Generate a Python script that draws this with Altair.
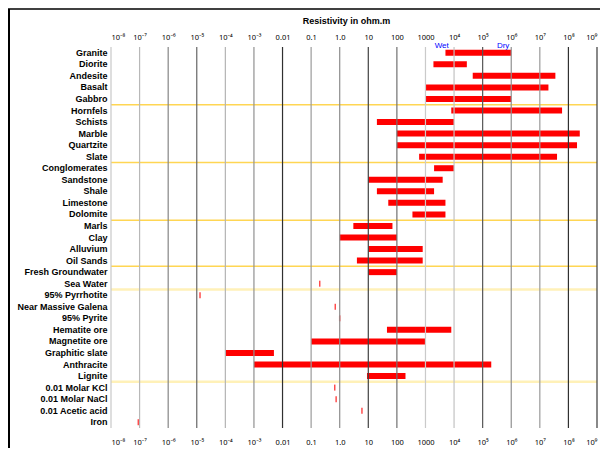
import altair as alt
import pandas as pd

# ---------------- data ----------------
rows = [
    "Granite", "Diorite", "Andesite", "Basalt", "Gabbro",
    "Hornfels", "Schists", "Marble", "Quartzite", "Slate",
    "Conglomerates", "Sandstone", "Shale", "Limestone", "Dolomite",
    "Marls", "Clay", "Alluvium", "Oil Sands",
    "Fresh Groundwater", "Sea Water",
    "95% Pyrrhotite", "Near Massive Galena", "95% Pyrite", "Hematite ore",
    "Magnetite ore", "Graphitic slate", "Anthracite", "Lignite",
    "0.01 Molar KCl", "0.01 Molar NaCl", "0.01 Acetic acid", "Iron",
]
low = [
    5e3, 1.9e3, 4.5e4, 1e3, 1e3,
    8e3, 20, 100, 100, 600,
    2e3, 10, 20, 50, 350,
    3, 1, 10, 4,
    10, 0.2,
    1.3e-5, 0.7, 1.0, 45,
    0.1, 1e-4, 1e-3, 9,
    0.67, 0.75, 6, 9e-8,
]
high = [
    1e6, 2.8e4, 3.5e7, 2e7, 1e6,
    6e7, 1e4, 2.5e8, 2e8, 4e7,
    1e4, 4e3, 2e3, 5e3, 5e3,
    70, 100, 800, 800,
    100, 0.2,
    1.3e-5, 0.7, 1.0, 8e3,
    1e3, 5e-3, 2e5, 200,
    0.67, 0.75, 6, 9e-8,
]
decades = [1e-8, 1e-7, 1e-6, 1e-5, 1e-4, 1e-3, 1e-2, 1e-1, 1, 10, 100, 1e3,
           1e4, 1e5, 1e6, 1e7, 1e8, 1e9]
tick_labels = ["10⁻⁸", "10⁻⁷", "10⁻⁶", "10⁻⁵", "10⁻⁴", "10⁻³", "0.01", "0.1",
               "1.0", "10", "100", "1000", "10⁴", "10⁵", "10⁶", "10⁷", "10⁸", "10⁹"]
group_ends = ["Gabbro", "Slate", "Dolomite", "Oil Sands", "Sea Water", "Lignite"]
group_kind = ["major", "major", "major", "major", "minor", "minor"]
notes = ["Wet", "Dry"]
note_x = [3.7e3, 5.2e5]
note_row = ["Granite", "Granite"]

# ---------------- styles ----------------
grid_shades = ["#c8c8c8", "#b8b8b8", "#858585", "#656565", "#b4b4b4", "#909090",
               "#303030", "#9a9a9a", "#8c8c8c", "#404040", "#707070", "#cacaca",
               "#c2c2c2", "#555555", "#909090", "#9a9a9a", "#303030", "#3a3a3a"]
W, H = 486, 381
PAD = {"left": 103, "top": 39, "right": 3, "bottom": 20}
TICK_FONT = "Noto Sans"

df = pd.DataFrame({"rock": rows, "lo": low, "hi": high})
grid_df = pd.DataFrame({"v": decades, "i": list(range(len(decades)))})
sep_df = pd.DataFrame({"rock": group_ends, "kind": group_kind})
note_df = pd.DataFrame({"label": notes, "x": note_x, "rock": note_row})

xscale = alt.Scale(type="log", domain=[1e-8, 1e9], nice=False)
yscale = alt.Scale(type="band", domain=rows, paddingInner=0, paddingOuter=0)
label_expr = "[" + ",".join("'%s'" % t for t in tick_labels) + "][round(log(datum.value)/LN10)+8]"

seps = alt.Chart(sep_df).mark_rule().encode(
    y=alt.Y("rock:N", scale=yscale, bandPosition=1, axis=None),
    color=alt.Color("kind:N", scale=alt.Scale(domain=["major", "minor"],
                                              range=["#FFD653", "#FFF1B8"]), legend=None),
    strokeWidth=alt.StrokeWidth("kind:N", scale=alt.Scale(domain=["major", "minor"],
                                                          range=[1.5, 2.5]), legend=None),
)

bars = alt.Chart(df).transform_filter("datum.hi > datum.lo").mark_bar(
    size=6, color="#ff0000"
).encode(
    x=alt.X("lo:Q", scale=xscale, axis=alt.Axis(
        orient="top", values=decades, labelExpr=label_expr, title="Resistivity in ohm.m",
        grid=False, ticks=False, tickSize=0, domain=False, labelFontSize=7.5,
        labelFont=TICK_FONT, labelPadding=6, labelFlush=True, labelOverlap=False,
        labelColor="#000",
        titleFontSize=9, titleFontWeight="bold", titleColor="#000",
        titleX=235, titleY=-24, titleBaseline="alphabetic", titleAlign="center")),
    x2="hi:Q",
    y=alt.Y("rock:N", scale=yscale, axis=alt.Axis(
        title=None, domain=False, ticks=False, grid=False, labelFontWeight="bold",
        labelFontSize=9, labelPadding=4, labelColor="#000")),
)

points = alt.Chart(df).transform_filter("datum.hi == datum.lo").mark_tick(
    thickness=1.5, size=6, color="#ff0000"
).encode(
    x=alt.X("lo:Q", scale=xscale, axis=None),
    y=alt.Y("rock:N", scale=yscale, axis=None),
)

grid = alt.Chart(grid_df).mark_rule(strokeWidth=1.2).encode(
    x=alt.X("v:Q", scale=xscale, axis=alt.Axis(
        orient="bottom", values=decades, labelExpr=label_expr, title=None,
        grid=False, ticks=False, tickSize=0, domain=False, labelFontSize=7.5,
        labelFont=TICK_FONT, labelPadding=10, labelFlush=True, labelOverlap=False,
        labelColor="#000")),
    color=alt.Color("i:O", scale=alt.Scale(domain=list(range(len(decades))),
                                           range=grid_shades), legend=None),
)

note = alt.Chart(note_df).mark_text(
    fontSize=8, color="#0000ff", baseline="alphabetic", dy=-5
).encode(
    x=alt.X("x:Q", scale=xscale, axis=None),
    y=alt.Y("rock:N", scale=yscale, axis=None),
    text="label:N",
)

frame_src = pd.DataFrame({"k": [0]})
frame_left = alt.Chart(frame_src).mark_rule(color="#000", strokeWidth=2).encode(
    x=alt.value(-102), y=alt.value(-38), y2=alt.value(H + PAD["bottom"]))
frame_top = alt.Chart(frame_src).mark_rule(color="#000", strokeWidth=1.6).encode(
    x=alt.value(-103), x2=alt.value(W + PAD["right"]), y=alt.value(-38))

chart = alt.layer(seps, bars, points, grid, note, frame_left, frame_top).resolve_scale(
    color="independent", strokeWidth="independent"
).resolve_axis(
    x="independent", y="independent"
).properties(
    width=W, height=H, autosize=alt.AutoSizeParams(type="none"), padding=PAD,
    background="white"
).configure(font="Liberation Sans").configure_view(stroke=None)

chart.save("out.html", embed_options={"renderer": "svg", "actions": False})
